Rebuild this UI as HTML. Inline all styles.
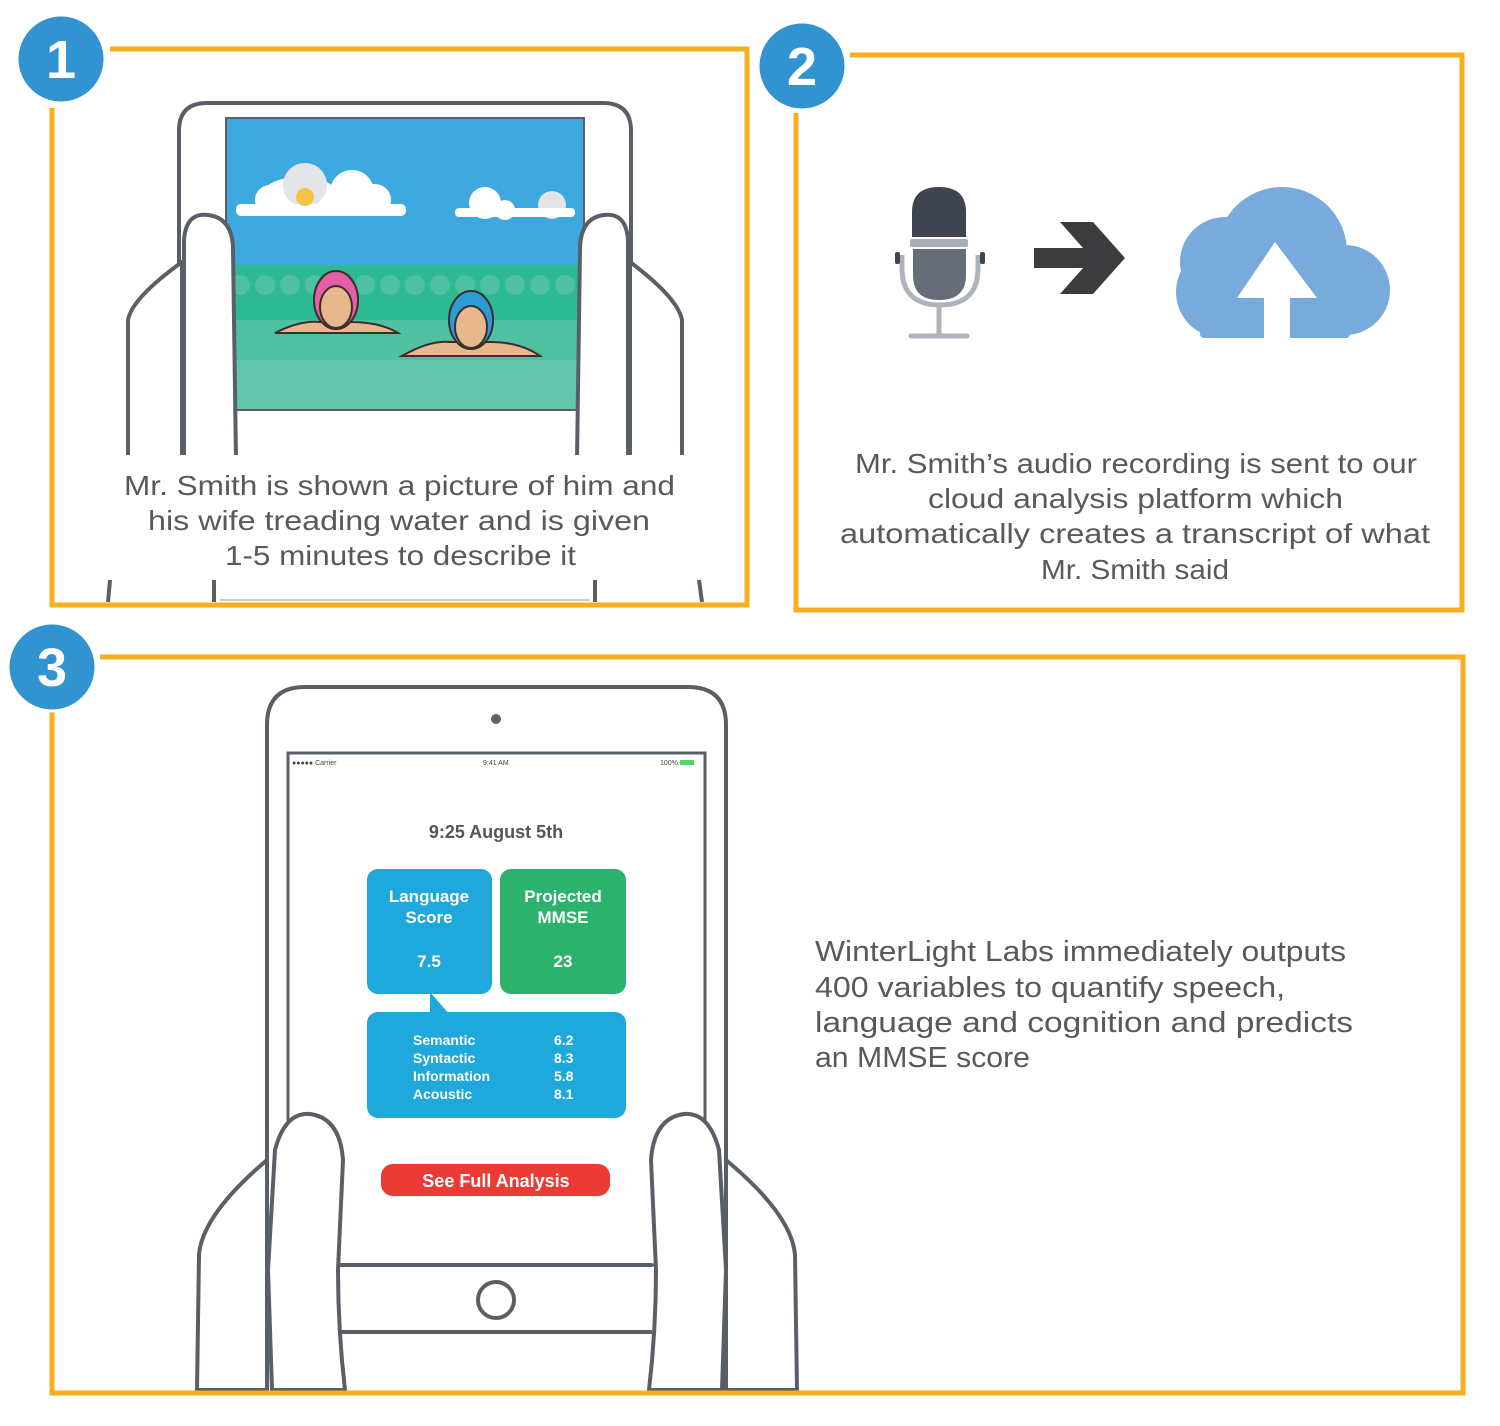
<!DOCTYPE html>
<html><head><meta charset="utf-8"><style>
html,body{margin:0;padding:0;background:#fff;}
svg{display:block;}
text{font-family:"Liberation Sans",sans-serif;}
</style></head><body>
<svg width="1500" height="1426" viewBox="0 0 1500 1426" xmlns="http://www.w3.org/2000/svg">
<rect width="1500" height="1426" fill="#fff"/>
<!-- Panel 1 tablet -->
<path d="M179 460 L179 131 Q179 103 207 103 L603 103 Q631 103 631 131 L631 460" fill="#fff" stroke="#5A5F66" stroke-width="4"/>
<rect x="226" y="118" width="358" height="292" fill="#3DA9E0" stroke="#5A5F66" stroke-width="2"/>
<rect x="227" y="265" width="356" height="144" fill="#2DBA93"/>
<rect x="227" y="320" width="356" height="89" fill="#4FC0A2"/>
<rect x="227" y="360" width="356" height="49" fill="#62C6AD"/>
<g fill="#4FC0A2">
<circle cx="240" cy="285" r="10"/><circle cx="265" cy="285" r="10"/><circle cx="290" cy="285" r="10"/><circle cx="315" cy="285" r="10"/><circle cx="340" cy="285" r="10"/><circle cx="365" cy="285" r="10"/><circle cx="390" cy="285" r="10"/><circle cx="415" cy="285" r="10"/><circle cx="440" cy="285" r="10"/><circle cx="465" cy="285" r="10"/><circle cx="490" cy="285" r="10"/><circle cx="515" cy="285" r="10"/><circle cx="540" cy="285" r="10"/><circle cx="565" cy="285" r="10"/>
</g>
<g fill="#fff">
<ellipse cx="300" cy="195" rx="38" ry="18"/><circle cx="270" cy="200" r="15"/><circle cx="305" cy="185" r="22" fill="#E3E5E8"/><circle cx="352" cy="192" r="22"/><circle cx="375" cy="200" r="16"/><rect x="236" y="204" width="170" height="12" rx="5"/>
<circle cx="485" cy="203" r="16"/><circle cx="505" cy="210" r="10"/><circle cx="552" cy="205" r="14" fill="#E3E5E8"/><rect x="455" y="208" width="120" height="9" rx="4"/>
</g>
<circle cx="305" cy="197" r="9" fill="#F6C445"/>
<g stroke="#3A2E2A" stroke-width="2">
<path d="M275 333 Q300 320 320 322 L350 322 Q380 322 398 333 Z" fill="#E7B88E"/>
<ellipse cx="336" cy="300" rx="22" ry="29" fill="#E55FA5"/>
<ellipse cx="336" cy="307" rx="16" ry="21" fill="#E7B88E"/>
<path d="M402 356 Q430 340 450 342 L490 342 Q520 342 540 356 Z" fill="#E7B88E"/>
<ellipse cx="471" cy="320" rx="22" ry="29" fill="#2E9BD6"/>
<ellipse cx="471" cy="327" rx="16" ry="21" fill="#E7B88E"/>
</g>
<g stroke="#5A5F66" stroke-width="4" fill="#fff" stroke-linejoin="round">
<path d="M128 460 L128 320 Q132 298 182 262 L182 460 Z" />
<path d="M184 460 L184 240 Q186 212 208 215 Q233 218 233 250 L236 460 Z"/>
<path d="M682 460 L682 320 Q678 298 630 262 L630 460 Z"/>
<path d="M628 460 L628 240 Q626 212 604 215 Q580 218 580 250 L577 460 Z"/>
</g>
<rect x="100" y="455" width="640" height="122" fill="#fff"/>
<g stroke="#5A5F66" stroke-width="4">
<line x1="214" y1="580" x2="214" y2="602"/><line x1="595" y1="580" x2="595" y2="602"/>
<line x1="110" y1="580" x2="108" y2="602"/><line x1="699" y1="580" x2="702" y2="602"/>
</g>
<line x1="220" y1="600" x2="590" y2="600" stroke="#ccc" stroke-width="2"/>
<g fill="#58595B" font-size="28">
<text x="124" y="495" textLength="551" lengthAdjust="spacingAndGlyphs">Mr. Smith is shown a picture of him and</text>
<text x="148" y="530" textLength="502" lengthAdjust="spacingAndGlyphs">his wife treading water and is given</text>
<text x="225" y="565" textLength="351" lengthAdjust="spacingAndGlyphs">1-5 minutes to describe it</text>
</g>
<!-- Panel frames -->
<g fill="none" stroke="#F9AE1D" stroke-width="5">
<path d="M110 49 L747 49 L747 605 L52 605 L52 108"/>
<path d="M850 55 L1462 55 L1462 610 L796 610 L796 113"/>
<path d="M100 657 L1463 657 L1463 1393 L52 1393 L52 712"/>
</g>
<!-- Panel 2 icons -->
<path d="M912 212 Q912 187 939 187 Q966 187 966 212 L966 237 L912 237 Z" fill="#3F4550"/>
<rect x="910" y="239" width="58" height="8" rx="2" fill="#A9ADB5"/>
<path d="M913 249 L966 249 L966 275 Q966 300 939 300 Q913 300 913 275 Z" fill="#666D78"/>
<path d="M902 255 L902 268 Q902 305 940 305 Q978 305 978 268 L978 255" fill="none" stroke="#AEB2BA" stroke-width="5"/>
<rect x="895" y="252" width="5" height="12" rx="2" fill="#3F4550"/><rect x="980" y="252" width="5" height="12" rx="2" fill="#3F4550"/>
<line x1="939" y1="305" x2="939" y2="334" stroke="#AEB2BA" stroke-width="5"/>
<line x1="911" y1="336" x2="967" y2="336" stroke="#AEB2BA" stroke-width="5" stroke-linecap="round"/>
<path d="M1034 248 L1083 248 L1060 222 L1093 222 L1125 258 L1093 294 L1060 294 L1083 268 L1034 268 Z" fill="#3C3C3E"/>
<g fill="#78AADB">
<circle cx="1282" cy="252" r="65"/><circle cx="1225" cy="262" r="45"/><circle cx="1345" cy="290" r="45"/><circle cx="1222" cy="292" r="46"/>
<rect x="1200" y="290" width="150" height="48" rx="4"/>
</g>
<path d="M1275 242 L1317 298 L1290 298 L1290 340 L1264 340 L1264 298 L1237 298 Z" fill="#fff"/>
<g fill="#58595B" font-size="28">
<text x="855" y="473" textLength="562" lengthAdjust="spacingAndGlyphs">Mr. Smith’s audio recording is sent to our</text>
<text x="928" y="508" textLength="415" lengthAdjust="spacingAndGlyphs">cloud analysis platform which</text>
<text x="840" y="543" textLength="590" lengthAdjust="spacingAndGlyphs">automatically creates a transcript of what</text>
<text x="1041" y="579" textLength="188" lengthAdjust="spacingAndGlyphs">Mr. Smith said</text>
</g>
<!-- Panel 3 tablet -->
<path d="M267 1390 L267 725 Q267 687 305 687 L688 687 Q726 687 726 725 L726 1390" fill="#fff" stroke="#5A5F66" stroke-width="4"/>
<rect x="288" y="753" width="417" height="512" fill="#fff" stroke="#5A5F66" stroke-width="3"/>
<circle cx="496" cy="719" r="5" fill="#5A5F66"/>
<g font-size="7" fill="#444"><text x="292" y="765">●●●●● Carrier</text><text x="483" y="765">9:41 AM</text><text x="660" y="765">100%</text></g>
<rect x="680" y="760" width="14" height="5" fill="#4CD964"/>
<text x="496" y="838" font-size="18" font-weight="bold" fill="#555" text-anchor="middle">9:25 August 5th</text>
<rect x="367" y="869" width="125" height="125" rx="11" fill="#1FA8DB"/>
<rect x="500" y="869" width="126" height="125" rx="11" fill="#2BB36E"/>
<path d="M430 992 L430 1015 L450 1015 Z" fill="#1FA8DB"/>
<rect x="367" y="1012" width="259" height="106" rx="11" fill="#1FA8DB"/>
<g fill="#fff" font-weight="bold" text-anchor="middle" font-size="17">
<text x="429" y="902">Language</text><text x="429" y="923">Score</text><text x="429" y="967">7.5</text>
<text x="563" y="902">Projected</text><text x="563" y="923">MMSE</text><text x="563" y="967">23</text>
</g>
<g fill="#fff" font-weight="bold" font-size="14">
<text x="413" y="1045">Semantic</text><text x="413" y="1063">Syntactic</text><text x="413" y="1081">Information</text><text x="413" y="1099">Acoustic</text>
<text x="554" y="1045">6.2</text><text x="554" y="1063">8.3</text><text x="554" y="1081">5.8</text><text x="554" y="1099">8.1</text>
</g>
<rect x="381" y="1164" width="229" height="32" rx="12" fill="#EB3B34"/>
<text x="496" y="1187" font-size="18" font-weight="bold" fill="#fff" text-anchor="middle">See Full Analysis</text>
<g stroke="#5A5F66" stroke-width="4" fill="#fff" stroke-linejoin="round">
<line x1="340" y1="1265" x2="652" y2="1265"/><line x1="340" y1="1332" x2="652" y2="1332"/>
<circle cx="496" cy="1300" r="18"/>
<path d="M197 1390 L199 1255 Q202 1215 267 1160 L267 1390 Z"/>
<path d="M272 1390 L268 1270 L275 1150 Q285 1112 310 1114 Q340 1118 343 1160 L338 1270 Q338 1330 345 1390 Z"/>
<path d="M797 1390 L795 1255 Q792 1215 726 1160 L726 1390 Z"/>
<path d="M722 1390 L726 1270 L719 1150 Q709 1112 684 1114 Q654 1118 651 1160 L656 1270 Q656 1330 649 1390 Z"/>
</g>
<line x1="52" y1="1393" x2="1463" y2="1393" stroke="#F9AE1D" stroke-width="5"/>
<g fill="#58595B" font-size="29">
<text x="815" y="961" textLength="531" lengthAdjust="spacingAndGlyphs">WinterLight Labs immediately outputs</text>
<text x="815" y="997" textLength="470" lengthAdjust="spacingAndGlyphs">400 variables to quantify speech,</text>
<text x="815" y="1032" textLength="538" lengthAdjust="spacingAndGlyphs">language and cognition and predicts</text>
<text x="815" y="1067" textLength="215" lengthAdjust="spacingAndGlyphs">an MMSE score</text>
</g>
<!-- number circles -->
<g fill="#3293D1" stroke="#fff" stroke-width="3">
<circle cx="61" cy="59" r="44"/><circle cx="802" cy="66" r="44"/><circle cx="52" cy="667" r="44"/>
</g>
<g fill="#fff" font-size="54" font-weight="bold" text-anchor="middle">
<text x="61" y="78">1</text><text x="802" y="85">2</text><text x="52" y="686">3</text>
</g>
</svg>
</body></html>
